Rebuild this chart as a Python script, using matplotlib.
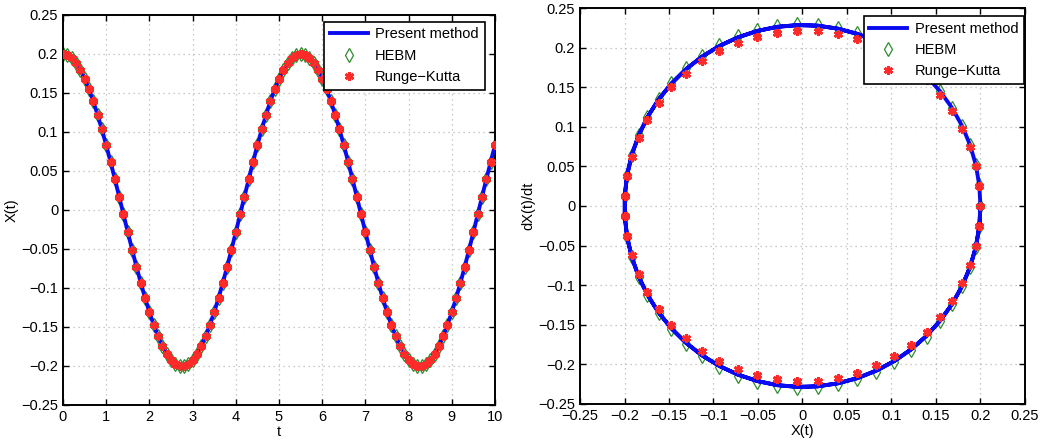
import matplotlib
matplotlib.use('Agg')
import matplotlib.pyplot as plt
from matplotlib.ticker import FuncFormatter

plt.rcParams['font.family'] = ['Liberation Sans', 'DejaVu Sans']
plt.rcParams['axes.unicode_minus'] = True

# ---------------------------------------------------------------------------
# data (t step 0.1, 0..10)
# ---------------------------------------------------------------------------
t = [round(0.1 * i, 1) for i in range(101)]

x_present = [
    0.2000, 0.1987, 0.1948, 0.1884, 0.1795, 0.1683, 0.1548, 0.1394, 0.1221, 0.1033,
    0.0831, 0.0618, 0.0397, 0.0171, -0.0057, -0.0285, -0.0508, -0.0726, -0.0933, -0.1129,
    -0.1310, -0.1473, -0.1618, -0.1742, -0.1842, -0.1919, -0.1971, -0.1997, -0.1997, -0.1971,
    -0.1919, -0.1842, -0.1742, -0.1618, -0.1473, -0.1310, -0.1129, -0.0933, -0.0726, -0.0508,
    -0.0285, -0.0057, 0.0171, 0.0397, 0.0618, 0.0831, 0.1033, 0.1221, 0.1394, 0.1548,
    0.1683, 0.1795, 0.1884, 0.1948, 0.1987, 0.2000, 0.1987, 0.1948, 0.1884, 0.1795,
    0.1683, 0.1548, 0.1394, 0.1221, 0.1033, 0.0831, 0.0618, 0.0397, 0.0171, -0.0057,
    -0.0285, -0.0508, -0.0726, -0.0933, -0.1129, -0.1310, -0.1473, -0.1618, -0.1742, -0.1842,
    -0.1919, -0.1971, -0.1997, -0.1997, -0.1971, -0.1919, -0.1842, -0.1742, -0.1618, -0.1473,
    -0.1310, -0.1129, -0.0933, -0.0726, -0.0508, -0.0285, -0.0057, 0.0171, 0.0397, 0.0618,
    0.0831,
]

v_present = [
    0.0000, -0.0260, -0.0518, -0.0768, -0.1008, -0.1235, -0.1446, -0.1639, -0.1810, -0.1957,
    -0.2078, -0.2173, -0.2239, -0.2277, -0.2284, -0.2262, -0.2210, -0.2129, -0.2021, -0.1886,
    -0.1727, -0.1546, -0.1343, -0.1123, -0.0889, -0.0644, -0.0390, -0.0130, 0.0130, 0.0390,
    0.0644, 0.0889, 0.1123, 0.1343, 0.1546, 0.1727, 0.1886, 0.2021, 0.2129, 0.2210,
    0.2262, 0.2284, 0.2277, 0.2239, 0.2173, 0.2078, 0.1957, 0.1810, 0.1639, 0.1446,
    0.1235, 0.1008, 0.0768, 0.0518, 0.0260, 0.0000, -0.0260, -0.0518, -0.0768, -0.1008,
    -0.1235, -0.1446, -0.1639, -0.1810, -0.1957, -0.2078, -0.2173, -0.2239, -0.2277, -0.2284,
    -0.2262, -0.2210, -0.2129, -0.2021, -0.1886, -0.1727, -0.1546, -0.1343, -0.1123, -0.0889,
    -0.0644, -0.0390, -0.0130, 0.0130, 0.0390, 0.0644, 0.0889, 0.1123, 0.1343, 0.1546,
    0.1727, 0.1886, 0.2021, 0.2129, 0.2210, 0.2262, 0.2284, 0.2277, 0.2239, 0.2173,
    0.2078,
]

# HEBM and Runge-Kutta follow the present curve in X(t)
x_hebm = x_present
x_rk = x_present

# one loop of markers in the phase plane (t = 0 .. 5.4)
x_loop = x_present[:55]
v_hebm = [
    0.0000, -0.0262, -0.0521, -0.0773, -0.1014, -0.1242, -0.1455, -0.1649, -0.1821, -0.1969,
    -0.2090, -0.2186, -0.2252, -0.2291, -0.2298, -0.2276, -0.2223, -0.2142, -0.2033, -0.1897,
    -0.1737, -0.1555, -0.1351, -0.1130, -0.0894, -0.0648, -0.0392, -0.0131, 0.0131, 0.0392,
    0.0648, 0.0894, 0.1130, 0.1351, 0.1555, 0.1737, 0.1897, 0.2033, 0.2142, 0.2223,
    0.2276, 0.2298, 0.2291, 0.2252, 0.2186, 0.2090, 0.1969, 0.1821, 0.1649, 0.1455,
    0.1242, 0.1014, 0.0773, 0.0521, 0.0262,
]
v_rk = [
    0.0000, -0.0252, -0.0501, -0.0743, -0.0976, -0.1195, -0.1400, -0.1587, -0.1752, -0.1894,
    -0.2011, -0.2103, -0.2167, -0.2204, -0.2211, -0.2190, -0.2139, -0.2061, -0.1956, -0.1826,
    -0.1672, -0.1497, -0.1300, -0.1087, -0.0861, -0.0623, -0.0378, -0.0126, 0.0126, 0.0378,
    0.0623, 0.0861, 0.1087, 0.1300, 0.1497, 0.1672, 0.1826, 0.1956, 0.2061, 0.2139,
    0.2190, 0.2211, 0.2204, 0.2167, 0.2103, 0.2011, 0.1894, 0.1752, 0.1587, 0.1400,
    0.1195, 0.0976, 0.0743, 0.0501, 0.0252,
]

x_ticks = list(range(11))
y_ticks = [-0.25, -0.2, -0.15, -0.1, -0.05, 0, 0.05, 0.1, 0.15, 0.2, 0.25]

# styles
COLOR_LINE = '#0a0af0'
COLOR_HEBM = '#2e8b2e'
COLOR_RK = '#ff2a2a'
GRID_COLOR = '#b8b8b8'
ASTERISK = (6, 2, 0)

fmt = FuncFormatter(lambda v, pos: ('%g' % round(v, 2)).replace('-', '\u2212'))

fig = plt.figure(figsize=(10.43, 4.47), dpi=100)
ax1 = fig.add_axes([0.0604, 0.094, 0.4142, 0.8725])
ax2 = fig.add_axes([0.5561, 0.0962, 0.4266, 0.8859])


def style_axes(ax):
    ax.grid(True, linestyle=(0, (1, 3)), linewidth=0.9, color=GRID_COLOR)
    ax.set_axisbelow(True)
    for sp in ax.spines.values():
        sp.set_linewidth(1.4)
        sp.set_color('black')
    ax.tick_params(axis='both', direction='in', top=True, right=True,
                   length=4, width=1, labelsize=10.5, colors='black')
    ax.yaxis.set_major_formatter(fmt)
    ax.xaxis.set_major_formatter(fmt)


def add_legend(ax, anchor):
    leg = ax.legend(loc='upper right', bbox_to_anchor=anchor, fontsize=10.5,
                    frameon=True, fancybox=False, framealpha=1, edgecolor='black',
                    handlelength=2.6, borderpad=0.4, labelspacing=0.5, handletextpad=0.5,
                    borderaxespad=0)
    leg.get_frame().set_linewidth(1.2)
    return leg


# ---------------------------------------------------------------------------
# left: time history
# ---------------------------------------------------------------------------
ax1.plot(t, x_present, color=COLOR_LINE, linewidth=2.8, label='Present method', zorder=3)
ax1.plot(t, x_hebm, linestyle='none', marker='d', markersize=7.5, markerfacecolor='none',
         markeredgecolor=COLOR_HEBM, markeredgewidth=0.9, label='HEBM', zorder=2)
ax1.plot(t, x_rk, linestyle='none', marker=ASTERISK, markersize=6.5,
         color=COLOR_RK, markeredgewidth=2.0, label='Runge\u2212Kutta', zorder=4)
ax1.set_xlim(0, 10)
ax1.set_ylim(-0.25, 0.25)
ax1.set_xticks(x_ticks)
ax1.set_yticks(y_ticks)
style_axes(ax1)
ax1.set_xlabel('t', fontsize=10.5, labelpad=1)
ax1.set_ylabel('X(t)', fontsize=10.5, labelpad=2)
add_legend(ax1, (0.976, 0.983))

# ---------------------------------------------------------------------------
# right: phase plane
# ---------------------------------------------------------------------------
ax2.plot(x_present, v_present, color=COLOR_LINE, linewidth=2.8, label='Present method', zorder=3)
ax2.plot(x_loop, v_hebm, linestyle='none', marker='d', markersize=7.5, markerfacecolor='none',
         markeredgecolor=COLOR_HEBM, markeredgewidth=0.9, label='HEBM', zorder=2)
ax2.plot(x_loop, v_rk, linestyle='none', marker=ASTERISK, markersize=6.5,
         color=COLOR_RK, markeredgewidth=2.0, label='Runge\u2212Kutta', zorder=4)
ax2.set_xlim(-0.25, 0.25)
ax2.set_ylim(-0.25, 0.25)
ax2.set_xticks(y_ticks)
ax2.set_yticks(y_ticks)
style_axes(ax2)
ax2.set_xlabel('X(t)', fontsize=10.5, labelpad=1)
ax2.set_ylabel('dX(t)/dt', fontsize=10.5, labelpad=2)
add_legend(ax2, (0.998, 0.98))

fig.patch.set_facecolor('white')
fig.savefig('out.png', dpi=100, facecolor='white')
